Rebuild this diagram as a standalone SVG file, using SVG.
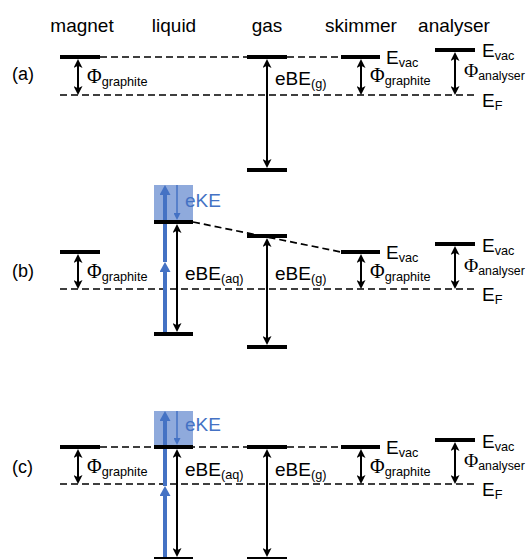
<svg xmlns="http://www.w3.org/2000/svg" width="526" height="559" viewBox="0 0 526 559">
<style>
.bar{stroke:#000;stroke-width:4}
.dash{stroke:#000;stroke-width:1.7;stroke-dasharray:7 4;fill:none}
.arr{stroke:#000;stroke-width:2;marker-start:url(#ah);marker-end:url(#ah)}
.blue{stroke:#4472c4;stroke-width:4;marker-end:url(#bh)}
.thin{stroke:#4472c4;stroke-width:1.5;marker-end:url(#th)}
.box{fill:#8faadc}
text{font-family:"Liberation Sans",Arial,sans-serif;font-size:19px;fill:#000}
.phi{font-family:"Liberation Serif","Times New Roman",serif;font-size:20px}
.sub{font-family:"Liberation Sans",Arial,sans-serif;font-size:12.7px}
.an{font-family:"Liberation Serif","Times New Roman",serif;font-size:19.5px}
.an .sub{font-size:12.3px}
.lbl{font-size:18px}
.bt{fill:#4472c4}
</style>
<defs>
<marker id="ah" viewBox="0 0 9 9" markerWidth="9" markerHeight="9" refX="3" refY="4.5" orient="auto-start-reverse" markerUnits="userSpaceOnUse"><path d="M0,0 L9,4.5 L0,9 L2.2,4.5 z" fill="#000"/></marker>
<marker id="bh" viewBox="0 0 10 11" markerWidth="10" markerHeight="11" refX="2" refY="5.5" orient="auto" markerUnits="userSpaceOnUse"><path d="M0,0 L10,5.5 L0,11 z" fill="#4472c4"/></marker>
<marker id="th" viewBox="0 0 7 7" markerWidth="7" markerHeight="7" refX="2" refY="3.5" orient="auto" markerUnits="userSpaceOnUse"><path d="M0,0 L7,3.5 L0,7 z" fill="#4472c4"/></marker>
</defs>

<g id="headers">
<text x="82" y="32" text-anchor="middle">magnet</text>
<text x="174" y="32" text-anchor="middle">liquid</text>
<text x="267" y="32" text-anchor="middle">gas</text>
<text x="361" y="32" text-anchor="middle">skimmer</text>
<text x="454" y="32" text-anchor="middle">analyser</text>
<text class="lbl" x="12" y="79.5">(a)</text>
<text class="lbl" x="12" y="277">(b)</text>
<text class="lbl" x="12" y="473">(c)</text>
</g>

<g id="kebox">
<rect class="box" x="154" y="185" width="39" height="37"/>
<rect class="box" x="154" y="411" width="39" height="36"/>
</g>

<g id="connectors">
<!-- (a) -->
<line class="dash" x1="100" y1="57" x2="247" y2="57"/>
<line class="dash" x1="287" y1="57" x2="341" y2="57"/>
<line class="dash" x1="60" y1="95" x2="475" y2="95"/>
<line class="arr" x1="78" y1="65" x2="78" y2="89"/>
<line class="arr" x1="267" y1="65" x2="267" y2="162"/>
<line class="arr" x1="361" y1="65" x2="361" y2="89"/>
<line class="arr" x1="455" y1="58" x2="455" y2="89"/>
<!-- (b) -->
<line class="dash" x1="193" y1="222" x2="341" y2="252"/>
<line class="dash" x1="60" y1="289" x2="475" y2="289"/>
<line class="arr" x1="78" y1="260" x2="78" y2="283"/>
<line class="arr" x1="177" y1="230" x2="177" y2="326"/>
<line class="arr" x1="267" y1="244" x2="267" y2="339"/>
<line class="arr" x1="361" y1="260" x2="361" y2="283"/>
<line class="arr" x1="455" y1="252" x2="455" y2="283"/>
<line class="blue" x1="165" y1="334" x2="165" y2="270"/>
<line class="blue" x1="165" y1="262" x2="165" y2="193"/>
<line class="thin" x1="177" y1="185" x2="177" y2="215"/>
<!-- (c) -->
<line class="dash" x1="100" y1="447" x2="341" y2="447"/>
<line class="dash" x1="60" y1="484" x2="475" y2="484"/>
<line class="arr" x1="78" y1="455" x2="78" y2="478"/>
<line class="arr" x1="177" y1="455" x2="177" y2="551"/>
<line class="arr" x1="267" y1="455" x2="267" y2="551"/>
<line class="arr" x1="361" y1="455" x2="361" y2="478"/>
<line class="arr" x1="455" y1="448" x2="455" y2="478"/>
<line class="blue" x1="165" y1="560" x2="165" y2="494"/>
<line class="blue" x1="165" y1="486" x2="165" y2="419"/>
<line class="thin" x1="177" y1="411" x2="177" y2="440"/>
</g>

<g id="a-magnet">
<line class="bar" x1="60" y1="57" x2="100" y2="57"/>
<text class="phi" x="87" y="83">Φ<tspan class="sub" dy="3">graphite</tspan></text>
</g>
<g id="a-gas">
<line class="bar" x1="247" y1="57" x2="287" y2="57"/>
<line class="bar" x1="247" y1="170" x2="287" y2="170"/>
<text x="275" y="85">eBE<tspan class="sub" dy="3">(g)</tspan></text>
</g>
<g id="a-skimmer">
<line class="bar" x1="341" y1="57" x2="380" y2="57"/>
<text x="386" y="64">E<tspan class="sub" dy="3">vac</tspan></text>
<text class="phi" x="370" y="82">Φ<tspan class="sub" dy="3">graphite</tspan></text>
</g>
<g id="a-analyser">
<line class="bar" x1="435" y1="50" x2="475" y2="50"/>
<text x="482" y="57">E<tspan class="sub" dy="3">vac</tspan></text>
<text class="an" x="464" y="77">Φ<tspan class="sub" dy="3">analyser</tspan></text>
<text x="482" y="107">E<tspan class="sub" dy="3">F</tspan></text>
</g>

<g id="b-magnet">
<line class="bar" x1="60" y1="252" x2="100" y2="252"/>
<text class="phi" x="87" y="278">Φ<tspan class="sub" dy="3">graphite</tspan></text>
</g>
<g id="b-liquid">
<line class="bar" x1="154" y1="222" x2="193" y2="222"/>
<line class="bar" x1="154" y1="334" x2="193" y2="334"/>
<text class="bt" x="185" y="207">eKE</text>
<text x="185" y="280">eBE<tspan class="sub" dy="3">(aq)</tspan></text>
</g>
<g id="b-gas">
<line class="bar" x1="247" y1="236" x2="287" y2="236"/>
<line class="bar" x1="247" y1="347" x2="287" y2="347"/>
<text x="275" y="280">eBE<tspan class="sub" dy="3">(g)</tspan></text>
</g>
<g id="b-skimmer">
<line class="bar" x1="341" y1="252" x2="380" y2="252"/>
<text x="386" y="259">E<tspan class="sub" dy="3">vac</tspan></text>
<text class="phi" x="370" y="278">Φ<tspan class="sub" dy="3">graphite</tspan></text>
</g>
<g id="b-analyser">
<line class="bar" x1="435" y1="244" x2="475" y2="244"/>
<text x="482" y="252">E<tspan class="sub" dy="3">vac</tspan></text>
<text class="an" x="464" y="272">Φ<tspan class="sub" dy="3">analyser</tspan></text>
<text x="482" y="301">E<tspan class="sub" dy="3">F</tspan></text>
</g>

<g id="c-magnet">
<line class="bar" x1="60" y1="447" x2="100" y2="447"/>
<text class="phi" x="87" y="473">Φ<tspan class="sub" dy="3">graphite</tspan></text>
</g>
<g id="c-liquid">
<line class="bar" x1="154" y1="447" x2="193" y2="447"/>
<line class="bar" x1="154" y1="559" x2="193" y2="559"/>
<text class="bt" x="185" y="431">eKE</text>
<text x="185" y="476">eBE<tspan class="sub" dy="3">(aq)</tspan></text>
</g>
<g id="c-gas">
<line class="bar" x1="247" y1="447" x2="287" y2="447"/>
<line class="bar" x1="247" y1="559" x2="287" y2="559"/>
<text x="275" y="476">eBE<tspan class="sub" dy="3">(g)</tspan></text>
</g>
<g id="c-skimmer">
<line class="bar" x1="341" y1="447" x2="380" y2="447"/>
<text x="386" y="454">E<tspan class="sub" dy="3">vac</tspan></text>
<text class="phi" x="370" y="473">Φ<tspan class="sub" dy="3">graphite</tspan></text>
</g>
<g id="c-analyser">
<line class="bar" x1="435" y1="440" x2="475" y2="440"/>
<text x="482" y="448">E<tspan class="sub" dy="3">vac</tspan></text>
<text class="an" x="464" y="467">Φ<tspan class="sub" dy="3">analyser</tspan></text>
<text x="482" y="496">E<tspan class="sub" dy="3">F</tspan></text>
</g>
</svg>
